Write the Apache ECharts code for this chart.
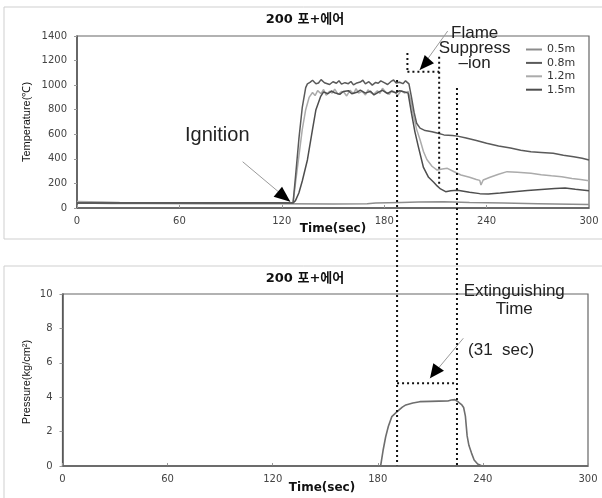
<!DOCTYPE html>
<html>
<head>
<meta charset="utf-8">
<script src="https://cdn.jsdelivr.net/npm/echarts@6/dist/echarts.min.js"></script>
<style>
  html, body { margin: 0; padding: 0; background: #fff; }
  #chart { width: 602px; height: 498px; }
</style>
</head>
<body>
<div id="chart"></div>
<script>
// ---- data ----
const chartTitle = '200 포+에어';
const seriesNames = ['0.5m', '0.8m', '1.2m', '1.5m'];
const seriesColors = ['#8c8c8c', '#5a5a5a', '#ababab', '#4e4e4e'];

const timeTicks = [0, 60, 120, 180, 240, 300];
const tempTicks = [0, 200, 400, 600, 800, 1000, 1200, 1400];
const pressTicks = [0, 2, 4, 6, 8, 10];

// temperature at 0.5 m
const time05 = [0, 10, 20, 40, 80, 120, 150, 170, 175, 190, 200, 215, 230, 250, 270, 300];
const temp05 = [40, 38, 37, 36, 35, 34, 33, 35, 40, 45, 48, 50, 45, 40, 35, 28];

// temperature at 0.8 m
const time08 = [0, 60, 126.6, 128, 130, 132, 134, 135, 136.5, 138, 140, 141.5, 143, 145, 146, 148, 150, 152, 153.5, 155, 157, 159, 160.5, 162, 164, 166, 167.5, 169, 171, 173, 175, 176.5, 178, 180, 182, 184, 185.5, 187, 189, 191, 192.5, 194.5, 196, 197.5, 199, 201, 204, 208, 211, 215, 220, 223, 228, 234, 240, 247, 254, 260, 266, 272, 279, 285, 291, 296, 300];
const temp08 = [42, 42, 42, 250, 560, 820, 980, 1010, 1022, 1040, 1012, 1018, 1045, 1020, 1030, 1005, 1028, 1015, 1036, 1008, 1020, 1012, 1030, 1002, 1018, 1025, 1040, 1010, 1028, 1000, 1022, 1015, 1035, 1020, 1005, 1030, 1042, 1018, 1024, 1012, 1035, 1010, 900, 780, 690, 650, 630, 620, 610, 595, 590, 585, 570, 550, 527, 505, 488, 470, 458, 452, 445, 430, 418, 405, 391];

// temperature at 1.2 m
const time12 = [0, 15, 25, 126.6, 128, 130, 132, 134, 136, 138, 139.5, 141, 143, 144.5, 146, 148, 149.5, 151, 153, 155, 156.5, 158, 160, 162, 163.5, 165, 167, 169, 170.5, 172, 174, 176, 177.5, 179, 181, 183, 184.5, 186, 188, 190, 192, 194, 195.5, 197, 199, 201, 203, 205, 208, 211, 214, 217, 221, 225, 230, 234, 236, 236.7, 238, 242, 247, 252, 258, 266, 272, 278, 284, 290, 295, 300];
const temp12 = [52, 48, 44, 42, 200, 420, 640, 800, 900, 940, 915, 955, 930, 965, 918, 950, 935, 968, 925, 948, 940, 912, 958, 930, 972, 935, 950, 920, 962, 940, 928, 955, 932, 975, 940, 925, 958, 942, 918, 955, 935, 950, 880, 760, 640, 555, 460, 395, 340, 309, 318, 323, 295, 269, 250, 232, 225, 187, 228, 250, 275, 296, 290, 282, 270, 262, 255, 240, 232, 222];

// temperature at 1.5 m
const time15 = [0, 60, 126.6, 128, 130, 132, 135, 138, 140, 142.7, 144.5, 147, 149, 151, 154, 156, 159, 161, 164, 166, 169, 172, 174, 177, 179, 182, 184, 187, 189, 192, 194, 196, 198, 200, 203, 206, 209, 211, 213, 216, 219, 223, 230, 236, 241, 248, 256, 264, 272, 280, 286, 292, 300];
const temp15 = [40, 40, 40, 60, 122, 220, 391, 640, 800, 906, 945, 930, 952, 938, 925, 948, 955, 930, 942, 960, 935, 950, 920, 945, 958, 932, 950, 938, 955, 945, 935, 770, 620, 500, 330, 250, 210, 180, 155, 133, 140, 145, 128, 117, 114, 122, 133, 142, 150, 158, 162, 152, 141];

// nozzle pressure
const timeP = [0, 181.6, 183, 184.5, 186, 188, 191, 194, 196, 200, 204, 210, 215, 220, 222, 223, 224, 226, 228, 229, 230, 231, 232, 233.5, 235, 237, 239.5, 300];
const pressure = [0, 0, 0.9, 1.7, 2.3, 2.87, 3.16, 3.42, 3.55, 3.66, 3.74, 3.76, 3.77, 3.78, 3.84, 3.82, 3.86, 3.72, 3.55, 3.4, 2.9, 1.75, 1.2, 0.75, 0.35, 0.12, 0, 0];

// annotation times / levels (data units)
const suppressStart = 191;     // lower chart time of suppression start
const extinguishEnd = 225.2;   // lower chart time of extinguishment
const flameMarkStart = 193.6;  // top chart bracket
const flameMarkEnd = 212.2;
const flameMarkLevel = 1110;
const pressMarkLevel = 4.81;

const zip = (xs, ys) => xs.map((x, i) => [x, ys[i]]);

const chart = echarts.init(document.getElementById('chart'), null, { renderer: 'canvas' });

const tickFont = { color: '#444', fontSize: 10, fontFamily: 'DejaVu Sans' };
function xAxisCfg(grid) {
  return {
    type: 'value', gridIndex: grid, min: 0, max: 300, interval: 60,
    axisLine: { show: true, onZero: false, lineStyle: { color: '#555', width: 1.5 } },
    axisTick: { show: true, inside: true, length: 3, lineStyle: { color: '#999' } },
    axisLabel: Object.assign({ margin: 8, formatter: v => String(v) }, tickFont),
    splitLine: { show: false }
  };
}
function yAxisCfg(grid, max, interval) {
  return {
    type: 'value', gridIndex: grid, min: 0, max: max, interval: interval,
    axisLine: { show: true, lineStyle: { color: '#555', width: 1.5 } },
    axisTick: { show: true, length: 3, lineStyle: { color: '#999' } },
    axisLabel: Object.assign({ margin: 10, formatter: v => String(v) }, tickFont),
    splitLine: { show: false }
  };
}

const tempSeries = [
  [time05, temp05], [time08, temp08], [time12, temp12], [time15, temp15]
].map((pair, i) => ({
  name: seriesNames[i], type: 'line', xAxisIndex: 0, yAxisIndex: 0,
  data: zip(pair[0], pair[1]), symbol: 'none', silent: true,
  lineStyle: { color: seriesColors[i], width: 1.5 }, itemStyle: { color: seriesColors[i] }, z: 3 + (i === 1 ? 1 : 0)
}));

chart.setOption({
  animation: false,
  grid: [
    { left: 77, top: 36, width: 512, height: 172, show: true, borderColor: '#666', borderWidth: 1.2 },
    { left: 62.5, top: 294, width: 525.5, height: 172, show: true, borderColor: '#666', borderWidth: 1.2 }
  ],
  xAxis: [xAxisCfg(0), xAxisCfg(1)],
  yAxis: [yAxisCfg(0, 1400, 200), yAxisCfg(1, 10, 2)],
  legend: {
    orient: 'vertical', left: 521, top: 38, icon: 'rect',
    itemWidth: 16, itemHeight: 2, itemGap: 0.4,
    data: seriesNames,
    textStyle: { fontSize: 11, fontFamily: 'DejaVu Sans', color: '#333', lineHeight: 13 },
    selectedMode: false
  },
  series: tempSeries.concat([{
    name: 'pressure', type: 'line', xAxisIndex: 1, yAxisIndex: 1,
    data: zip(timeP, pressure), symbol: 'none', silent: true,
    lineStyle: { color: '#6e6e6e', width: 1.6 }
  }])
});

// ---- annotations, anchored to the axes ----
const px = (g, x, y) => chart.convertToPixel({ gridIndex: g }, [x, y]);
const dotted = { stroke: '#111', lineWidth: 2, lineDash: [2, 3] };
const thin = { stroke: '#9a9a9a', lineWidth: 1 };
const annoFont = "'Liberation Sans', Arial, sans-serif";

function vline(x, y1, y2) {
  return { type: 'line', z: 100, shape: { x1: x, y1: y1, x2: x, y2: y2 }, style: dotted };
}
function hline(x1, x2, y) {
  return { type: 'line', z: 100, shape: { x1: x1, y1: y, x2: x2, y2: y }, style: dotted };
}
function arrow(tip, from, a, b) {
  return [
    { type: 'line', z: 99, shape: { x1: from[0], y1: from[1], x2: tip[0], y2: tip[1] }, style: thin },
    { type: 'polygon', z: 100, shape: { points: [tip, [tip[0] + a[0], tip[1] + a[1]], [tip[0] + b[0], tip[1] + b[1]]] }, style: { fill: '#000' } }
  ];
}

const xS = px(1, suppressStart, 0)[0];
const xE = px(1, extinguishEnd, 0)[0];
const yBottom = px(1, 0, 0.05)[1];
const g = [];

// outer frames of both panels
g.push({ type: 'rect', z: -1, shape: { x: 4, y: 7, width: 620, height: 232 }, style: { fill: 'none', stroke: '#cfcfcf', lineWidth: 1 } });
g.push({ type: 'rect', z: -1, shape: { x: 4, y: 266, width: 620, height: 250 }, style: { fill: 'none', stroke: '#cfcfcf', lineWidth: 1 } });

// titles
const titleFont = "bold 13px 'DejaVu Sans', 'Noto Sans CJK KR'";
g.push({ type: 'text', z: 101, x: 305, y: 20, style: { text: chartTitle, font: titleFont, fill: '#111', align: 'center', verticalAlign: 'middle' } });
g.push({ type: 'text', z: 101, x: 305, y: 279, style: { text: chartTitle, font: titleFont, fill: '#111', align: 'center', verticalAlign: 'middle' } });

// axis titles
const axisTitleFont = "11px 'Liberation Sans Narrow', 'Liberation Sans', sans-serif";
g.push({ type: 'text', z: 101, x: 27, y: 122, rotation: Math.PI / 2, style: { text: 'Temperature(℃)', font: axisTitleFont, fill: '#111', align: 'center', verticalAlign: 'middle' } });
g.push({ type: 'text', z: 101, x: 27, y: 382, rotation: Math.PI / 2, style: { text: 'Pressure(kg/cm²)', font: axisTitleFont, fill: '#111', align: 'center', verticalAlign: 'middle' } });
const xTitleFont = "bold 12px 'DejaVu Sans'";
g.push({ type: 'text', z: 101, x: 333, y: 229, style: { text: 'Time(sec)', font: xTitleFont, fill: '#111', align: 'center', verticalAlign: 'middle' } });
g.push({ type: 'text', z: 101, x: 322, y: 488, style: { text: 'Time(sec)', font: xTitleFont, fill: '#111', align: 'center', verticalAlign: 'middle' } });

// long dotted guides through both panels
g.push(vline(xS, px(0, 0, 1042)[1], yBottom));
g.push(vline(xE, px(0, 0, 977)[1], yBottom));

// flame suppression bracket
const fx1 = px(0, flameMarkStart, 0)[0];
const fx2 = px(0, flameMarkEnd, 0)[0];
const fy = px(0, 0, flameMarkLevel)[1];
g.push(vline(fx1, px(0, 0, 1262)[1], fy));
g.push(hline(fx1, fx2, fy));
g.push(vline(fx2, px(0, 0, 1232)[1], px(0, 0, 195)[1]));

// extinguishing bracket
g.push(hline(xS, xE, px(1, 0, pressMarkLevel)[1]));

// arrows
const ignTip = px(0, 125, 51);
arrow(ignTip, [ignTip[0] - 47.7, ignTip[1] - 40], [-8.3, -15], [-16.7, -5]).forEach(e => g.push(e));
const flameTip = px(0, 200.8, 1123);
arrow(flameTip, [flameTip[0] + 28, flameTip[1] - 39], [5, -15], [14.3, -6.7]).forEach(e => g.push(e));
const extTip = px(1, 209.8, 5.1);
arrow(extTip, [extTip[0] + 33.3, extTip[1] - 40], [3.3, -15], [14, -7.6]).forEach(e => g.push(e));

// annotation texts
const ign = px(0, 82.2, 594);
g.push({ type: 'text', z: 101, x: ign[0], y: ign[1], style: { text: 'Ignition', font: '20px ' + annoFont, fill: '#222', align: 'center', verticalAlign: 'middle' } });
const fl = px(0, 233, 1302);
g.push({ type: 'text', z: 101, x: fl[0], y: fl[1], style: { text: 'Flame\nSuppress\n–ion', font: '17px ' + annoFont, lineHeight: 15, fill: '#222', align: 'center', verticalAlign: 'middle' } });
const ext = px(1, 257.9, 9.64);
g.push({ type: 'text', z: 101, x: ext[0], y: ext[1], style: { text: 'Extinguishing\nTime', font: '17px ' + annoFont, lineHeight: 18, fill: '#222', align: 'center', verticalAlign: 'middle' } });
const sec = px(1, 231.5, 6.7);
g.push({ type: 'text', z: 101, x: sec[0], y: sec[1], style: { text: '(31  sec)', font: '17px ' + annoFont, fill: '#222', align: 'left', verticalAlign: 'middle' } });

chart.setOption({ graphic: { elements: g } });
</script>
</body>
</html>
